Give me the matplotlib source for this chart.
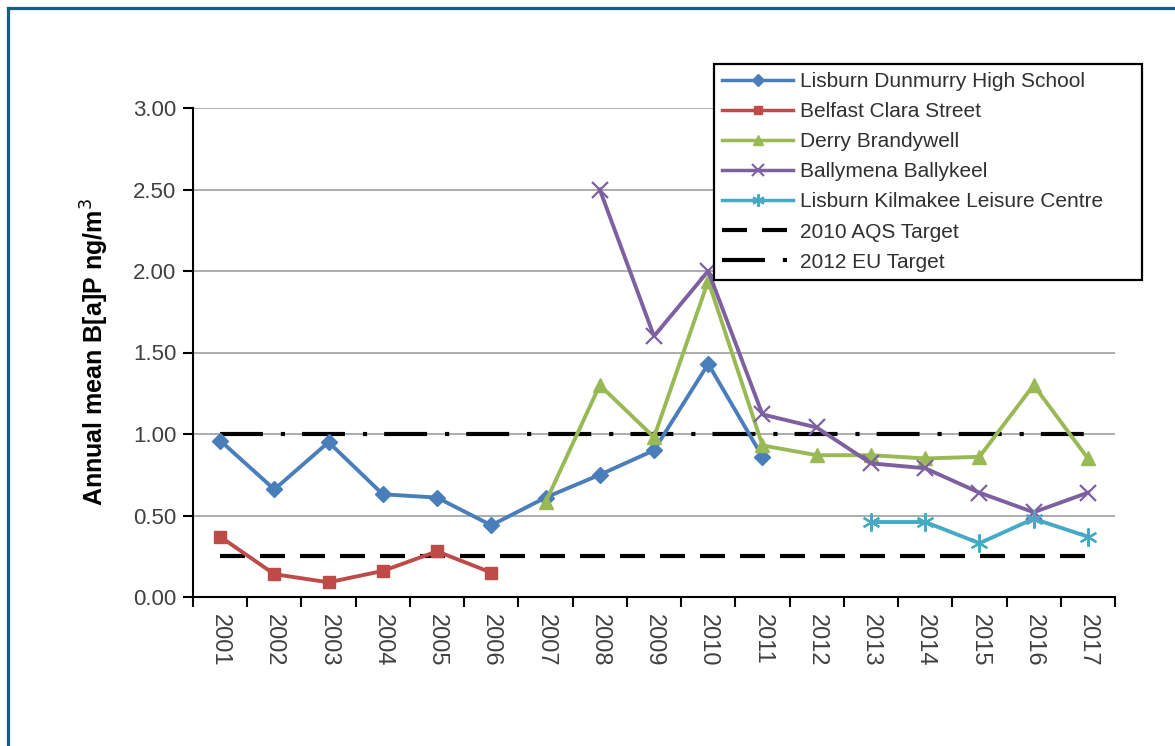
import numpy as np
import matplotlib
matplotlib.use("Agg")
import matplotlib.pyplot as plt
from matplotlib.lines import Line2D

plt.rcParams["font.family"] = ["Liberation Sans", "DejaVu Sans"]

# -----------------------------
# Data
# -----------------------------
years = [str(y) for y in range(2001, 2018)]

dunmurry_years = years[0:11]
dunmurry = [0.96, 0.66, 0.95, 0.63, 0.61, 0.44, 0.61, 0.75, 0.90, 1.43, 0.86]

clara_years = years[0:6]
clara = [0.37, 0.14, 0.09, 0.16, 0.28, 0.15]

derry_years = years[6:17]
derry = [0.58, 1.30, 0.98, 1.94, 0.93, 0.87, 0.87, 0.85, 0.86, 1.30, 0.85]

ballymena_years = years[7:17]
ballymena = [2.50, 1.60, 2.00, 1.12, 1.04, 0.82, 0.79, 0.64, 0.52, 0.64]

kilmakee_years = years[12:17]
kilmakee = [0.46, 0.46, 0.33, 0.48, 0.37]

aqs_target = [0.25] * len(years)
eu_target = [1.00] * len(years)

# -----------------------------
# Figure
# -----------------------------
fig = plt.figure(figsize=(11.75, 7.46), dpi=100)
ax = fig.add_axes([193 / 1175, 1 - 597 / 746, (1115 - 193) / 1175, (597 - 108) / 746])

pos = {y: i for i, y in enumerate(years)}

def xs(labels):
    return [pos[l] for l in labels]

ax.yaxis.grid(True, color="#a6a6a6", lw=1.3)
ax.set_axisbelow(True)

AQS_LS = (0, (6, 3.6))
EU_LS = (0, (10.3, 4.3, 1, 4.1))

ax.plot(xs(years), aqs_target, color="black", lw=3, ls=AQS_LS, zorder=2)
ax.plot(xs(years), eu_target, color="black", lw=3, ls=EU_LS, zorder=2)

ax.plot(xs(dunmurry_years), dunmurry, color="#4A7EBB", lw=2.8, marker="D", ms=8, zorder=3)
ax.plot(xs(clara_years), clara, color="#BE4B48", lw=2.8, marker="s", ms=9, zorder=3)
ax.plot(xs(derry_years), derry, color="#98B954", lw=2.8, marker="^", ms=10, zorder=3)
ax.plot(xs(ballymena_years), ballymena, color="#7D60A0", lw=2.8, marker="x", ms=12, mew=1.6, zorder=4)
ax.plot(xs(kilmakee_years), kilmakee, color="#46AAC5", lw=2.8, marker=(6, 2, 0), ms=13, mew=1.6, zorder=4)

ax.set_xlim(-0.5, len(years) - 0.5)
ax.set_ylim(0, 3)
ax.set_yticks(np.arange(0, 3.01, 0.5))
ax.set_yticklabels([f"{v:.2f}" for v in np.arange(0, 3.01, 0.5)], fontsize=16, color="#404040")

ax.set_xticks(range(len(years)))
ax.set_xticklabels(years, rotation=-90, fontsize=17, color="#404040")
ax.tick_params(axis="x", which="major", length=0, pad=12)
ax.set_xticks(np.arange(-0.5, len(years), 1), minor=True)
ax.tick_params(axis="x", which="minor", length=7, width=1.5, direction="out")
ax.tick_params(axis="y", length=7, width=1.5, direction="out", pad=5)

for s in ["top", "right"]:
    ax.spines[s].set_visible(False)
for s in ["left", "bottom"]:
    ax.spines[s].set_linewidth(1.5)

ax.set_ylabel("Annual mean B[a]P ng/m$^3$", fontsize=18, fontweight="bold", labelpad=16)

# -----------------------------
# Legend
# -----------------------------
handles = [
    Line2D([], [], color="#4A7EBB", lw=2.5, marker="D", ms=6),
    Line2D([], [], color="#BE4B48", lw=2.5, marker="s", ms=6),
    Line2D([], [], color="#98B954", lw=2.5, marker="^", ms=7),
    Line2D([], [], color="#7D60A0", lw=2.5, marker="x", ms=9, mew=1.5),
    Line2D([], [], color="#46AAC5", lw=2.5, marker=(6, 2, 0), ms=9, mew=1.5),
    Line2D([], [], color="black", lw=3, ls=AQS_LS),
    Line2D([], [], color="black", lw=3, ls=EU_LS),
]
labels = ["Lisburn Dunmurry High School", "Belfast Clara Street", "Derry Brandywell",
          "Ballymena Ballykeel", "Lisburn Kilmakee Leisure Centre", "2010 AQS Target",
          "2012 EU Target"]
leg = fig.legend(handles, labels, loc="upper left",
                 bbox_to_anchor=(714 / 1175, 1 - 280 / 746, (1142 - 714) / 1175, (280 - 64) / 746),
                 mode="expand", fontsize=15, frameon=True, fancybox=False,
                 edgecolor="black", framealpha=1, handlelength=3.4, handletextpad=0.35,
                 labelspacing=0.53, borderpad=0.4, borderaxespad=0)
leg.get_frame().set_linewidth(1.6)
for t in leg.get_texts():
    t.set_color("#303030")

# outer frame (left and top edges only)
fig.add_artist(Line2D([7.5 / 1175, 7.5 / 1175], [0, 1 - 7.5 / 746], color="#1B5C80", lw=2.3))
fig.add_artist(Line2D([7.5 / 1175, 1], [1 - 7.5 / 746, 1 - 7.5 / 746], color="#1B5C80", lw=2.3))

fig.savefig("out.png", dpi=100)
